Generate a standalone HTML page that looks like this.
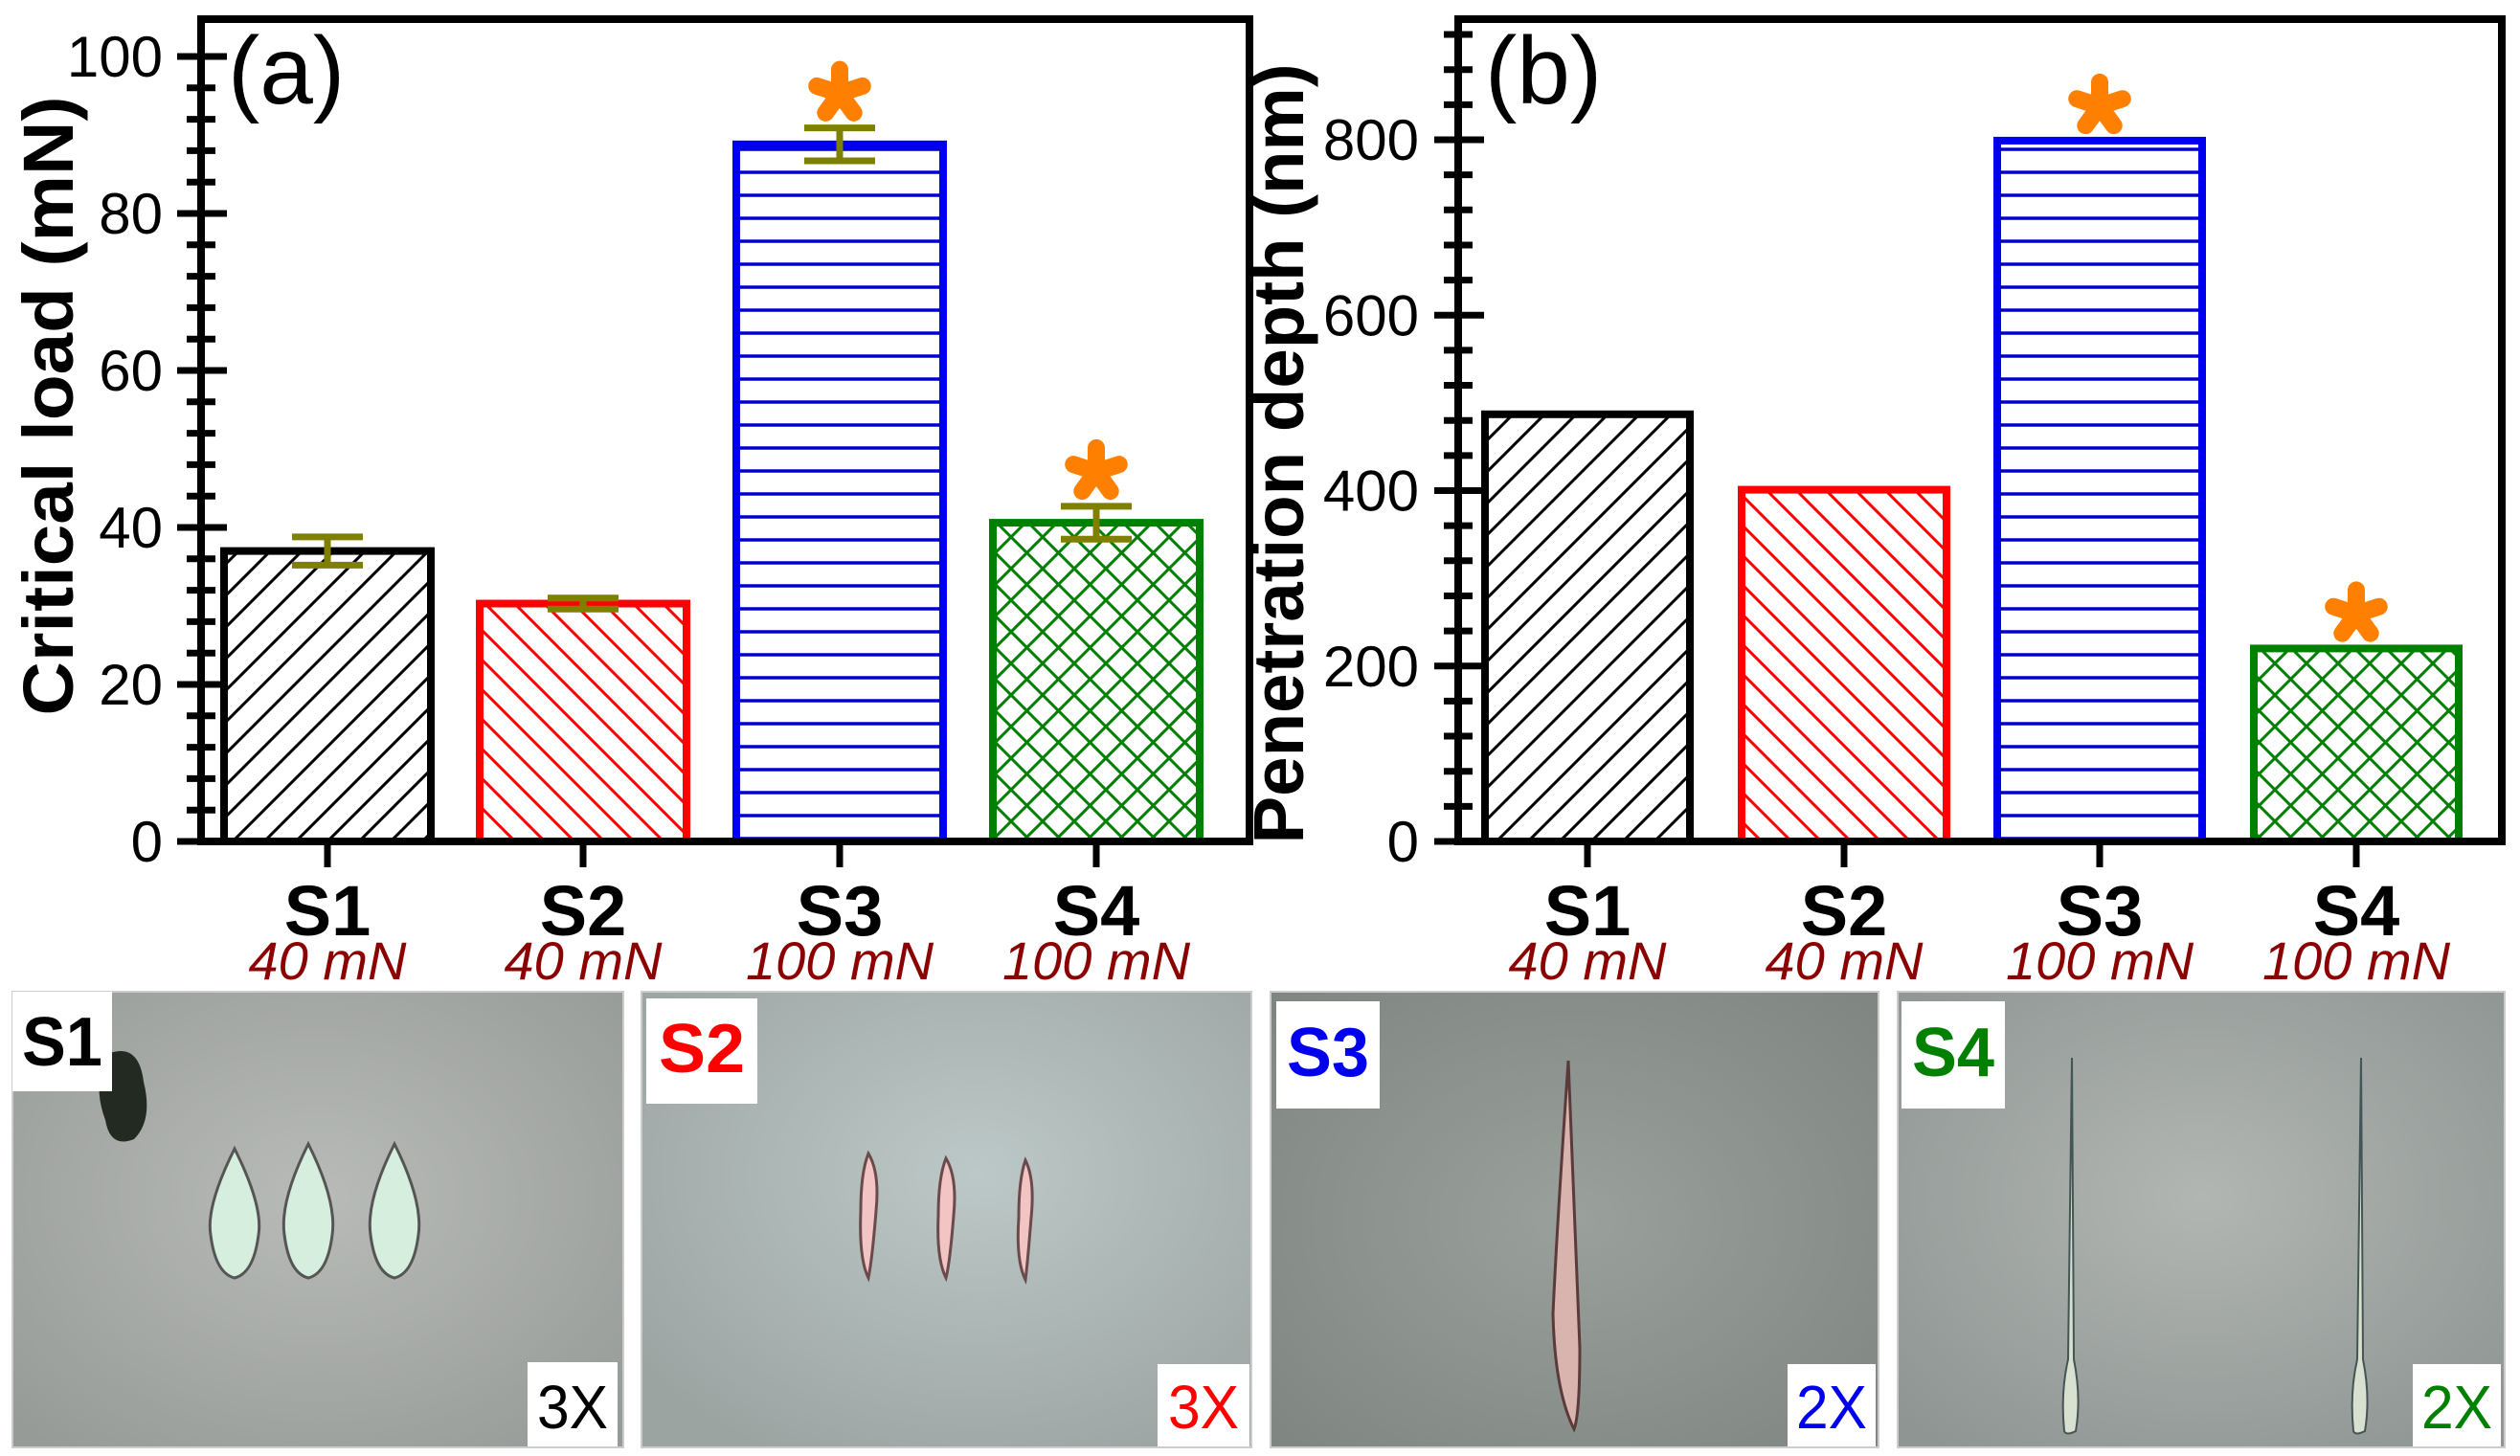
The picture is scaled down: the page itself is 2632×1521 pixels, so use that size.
<!DOCTYPE html>
<html><head><meta charset="utf-8"><style>
html,body{margin:0;padding:0;background:#fff;}
svg{display:block;font-family:"Liberation Sans",Arial,sans-serif;}
</style></head><body>
<svg id="fig" width="2632" height="1521" viewBox="0 0 2632 1521" xmlns="http://www.w3.org/2000/svg">
<defs>
<pattern id="pS1" patternUnits="userSpaceOnUse" width="33" height="33"><rect width="33" height="33" fill="#fff"/><path d="M-8,41 L41,-8 M-8,8 L8,-8 M25,41 L41,25" stroke="#000" stroke-width="3"/></pattern>
<pattern id="pS2" patternUnits="userSpaceOnUse" width="31" height="31"><rect width="31" height="31" fill="#fff"/><path d="M-8,-8 L39,39 M-8,23 L8,39 M23,-8 L39,8" stroke="#ff0000" stroke-width="3"/></pattern>
<pattern id="pS3" patternUnits="userSpaceOnUse" width="40" height="24"><rect width="40" height="24" fill="#fff"/><line x1="0" y1="12" x2="40" y2="12" stroke="#0000cc" stroke-width="3.5"/></pattern>
<pattern id="pS4" patternUnits="userSpaceOnUse" width="33" height="33"><rect width="33" height="33" fill="#fff"/><path d="M-8,41 L41,-8 M-8,8 L8,-8 M25,41 L41,25 M-8,-8 L41,41 M-8,25 L8,41 M25,-8 L41,8" stroke="#008000" stroke-width="3"/></pattern>
<radialGradient id="g1" cx="0.5" cy="0.45" r="0.7"><stop offset="0" stop-color="#b8bbb8"/><stop offset="1" stop-color="#979b98"/></radialGradient>
<radialGradient id="g2" cx="0.55" cy="0.4" r="0.7"><stop offset="0" stop-color="#bcc8c7"/><stop offset="1" stop-color="#9ca4a2"/></radialGradient>
<radialGradient id="g3" cx="0.5" cy="0.5" r="0.7"><stop offset="0" stop-color="#9aa09b"/><stop offset="1" stop-color="#7f8682"/></radialGradient>
<radialGradient id="g4" cx="0.5" cy="0.45" r="0.7"><stop offset="0" stop-color="#b2b6b3"/><stop offset="1" stop-color="#8e9592"/></radialGradient>
</defs>
<g id="charts"></g>
<g id="photos">
  <g>
    <rect x="13" y="1036" width="638" height="476" fill="url(#g1)" stroke="#ccc" stroke-width="2"/>
    <path d="M115,1100 q30,-10 35,30 q10,40 -10,60 q-25,10 -30,-20 q-15,-40 5,-70z" fill="#222a22"/>
    <path d="M245,1200 q-30,60 -25,90 q5,40 25,45 q20,-5 25,-45 q5,-30 -25,-90z" fill="#d6eedd" stroke="#555" stroke-width="3"/>
    <path d="M322,1195 q-30,60 -25,95 q5,40 25,45 q20,-5 25,-45 q5,-35 -25,-95z" fill="#d6eedd" stroke="#555" stroke-width="3"/>
    <path d="M412,1195 q-30,60 -25,95 q5,40 25,45 q20,-5 25,-45 q5,-35 -25,-95z" fill="#d6eedd" stroke="#555" stroke-width="3"/>
    <rect x="13" y="1036" width="104" height="104" fill="#fff"/>
    <text x="65" y="1113" font-size="72" font-weight="bold" text-anchor="middle" fill="#000" textLength="84" lengthAdjust="spacingAndGlyphs">S1</text>
    <rect x="551" y="1423" width="94" height="88" fill="#fff"/>
    <text x="598" y="1492" font-size="64" text-anchor="middle" fill="#000" textLength="74" lengthAdjust="spacingAndGlyphs">3X</text>
  </g>
  <g>
    <rect x="670" y="1036" width="637" height="476" fill="url(#g2)" stroke="#ccc" stroke-width="2"/>
    <path d="M907,1205 q12,20 8,60 q-4,50 -8,70 q-10,-20 -8,-70 q0,-40 8,-60z" fill="#f2c4c4" stroke="#6a4a4a" stroke-width="3"/>
    <path d="M988,1210 q12,20 8,60 q-4,50 -8,65 q-10,-20 -8,-65 q0,-40 8,-60z" fill="#f2c4c4" stroke="#6a4a4a" stroke-width="3"/>
    <path d="M1071,1212 q10,20 6,60 q-4,50 -6,65 q-10,-20 -7,-65 q0,-40 7,-60z" fill="#f2c4c4" stroke="#6a4a4a" stroke-width="3"/>
    <rect x="675" y="1043" width="116" height="110" fill="#fff"/>
    <text x="733" y="1120" font-size="72" font-weight="bold" text-anchor="middle" fill="#ff0000" textLength="90" lengthAdjust="spacingAndGlyphs">S2</text>
    <rect x="1209" y="1425" width="96" height="86" fill="#fff"/>
    <text x="1257" y="1492" font-size="64" text-anchor="middle" fill="#ff0000" textLength="74" lengthAdjust="spacingAndGlyphs">3X</text>
  </g>
  <g>
    <rect x="1327" y="1036" width="635" height="476" fill="url(#g3)" stroke="#ccc" stroke-width="2"/>
    <path d="M1638,1108 q8,200 12,300 q0,70 -6,85 q-20,-40 -22,-120 q4,-90 16,-265z" fill="#d9b3ad" stroke="#5a3a3a" stroke-width="3"/>
    <rect x="1333" y="1046" width="108" height="112" fill="#fff"/>
    <text x="1387" y="1124" font-size="72" font-weight="bold" text-anchor="middle" fill="#0000ee" textLength="86" lengthAdjust="spacingAndGlyphs">S3</text>
    <rect x="1867" y="1425" width="92" height="86" fill="#fff"/>
    <text x="1913" y="1492" font-size="64" text-anchor="middle" fill="#0000ee" textLength="74" lengthAdjust="spacingAndGlyphs">2X</text>
  </g>
  <g>
    <rect x="1982" y="1036" width="634" height="476" fill="url(#g4)" stroke="#ccc" stroke-width="2"/>
    <path d="M2164,1105 L2166,1420 q8,40 2,75 q-10,5 -12,0 q-4,-40 4,-75z" fill="#d8e0d0" stroke="#455" stroke-width="2"/>
    <path d="M2466,1105 L2468,1420 q8,40 2,75 q-10,5 -12,0 q-4,-40 4,-75z" fill="#d8e0d0" stroke="#455" stroke-width="2"/>
    <rect x="1986" y="1046" width="108" height="112" fill="#fff"/>
    <text x="2040" y="1124" font-size="72" font-weight="bold" text-anchor="middle" fill="#008000" textLength="86" lengthAdjust="spacingAndGlyphs">S4</text>
    <rect x="2520" y="1425" width="92" height="86" fill="#fff"/>
    <text x="2566" y="1492" font-size="64" text-anchor="middle" fill="#008000" textLength="74" lengthAdjust="spacingAndGlyphs">2X</text>
  </g>
</g>
</svg>
<script>
const categories = ["S1","S2","S3","S4"];
const loads = ["40 mN","40 mN","100 mN","100 mN"];
const criticalLoad = [37.0, 30.3, 88.8, 40.6];
const criticalLoadErr = [1.8, 0.7, 2.1, 2.1];
const criticalStars = [false, false, true, true];
const penetrationDepth = [487, 401, 799, 220];
const penetrationStars = [false, false, true, true];
const ticksA = [0,20,40,60,80,100];
const ticksB = [0,200,400,600,800];
const fills = ["url(#pS1)","url(#pS2)","url(#pS3)","url(#pS4)"];
const strokes = ["#000","#ff0000","#0000ee","#008000"];

const NS = "http://www.w3.org/2000/svg";
const root = document.getElementById("charts");
function mk(tag, attrs, parent){const e=document.createElementNS(NS,tag);for(const k in attrs)e.setAttribute(k,attrs[k]);(parent||root).appendChild(e);return e;}

function drawPanel(cfg){
  const g = mk("g",{});
  
  
  const {left,right,top,bottom,vmax,minorStep,ticks,letter,title,titleX,titleLen,labelRight,vals,errs,stars,barCenters,barW} = cfg;
  const y = v => bottom - (v/vmax)*(bottom-cfg.yAtMax);
  vals.forEach((v,i)=>{
    const r = mk("rect",{x:barCenters[i]-barW/2,y:y(v),width:barW,height:bottom-y(v),fill:fills[i],stroke:strokes[i],"stroke-width":8},g);
    
    
  });
  if(errs){
    errs.forEach((e,i)=>{
      const eg = mk("g",{stroke:"#808000","stroke-width":7},g);
      
      
      const cx = barCenters[i];
      mk("line",{x1:cx,x2:cx,y1:y(vals[i]+e),y2:y(vals[i]-e)},eg);
      mk("line",{x1:cx-37,x2:cx+37,y1:y(vals[i]+e),y2:y(vals[i]+e)},eg);
      mk("line",{x1:cx-37,x2:cx+37,y1:y(vals[i]-e),y2:y(vals[i]-e)},eg);
    });
  }
  stars.forEach((s,i)=>{
    if(!s) return;
    const top = errs ? y(vals[i]+errs[i]) : y(vals[i]);
    const cy = top - 36, cx = barCenters[i];
    const sg = mk("g",{stroke:"#ff8000","stroke-width":18,"stroke-linecap":"round"},g);
    
    
    [90,18,162,234,306].forEach(a=>{
      const rad=a*Math.PI/180;
      mk("line",{x1:cx,y1:cy,x2:cx+25*Math.cos(rad),y2:cy-25*Math.sin(rad)},sg);
    });
  });
  const fr = mk("rect",{x:left,y:top,width:right-left,height:bottom-top,fill:"none",stroke:"#000","stroke-width":8},g);
  
  
  const yax = mk("g",{stroke:"#000","stroke-width":7},g);
  
  
  for(let v=0; y(v)>=top+8; v+=minorStep){
    const isMajor = ticks.indexOf(v)>=0;
    if(isMajor) mk("line",{x1:left-25,x2:left+27,y1:y(v),y2:y(v)},yax);
    else mk("line",{x1:left-15,x2:left+15,y1:y(v),y2:y(v)},yax);
  }
  ticks.forEach(t=>{
    const tx = mk("text",{x:labelRight,y:y(t)+21,"font-size":60,"text-anchor":"end",fill:"#000"},g);
    tx.textContent = t;
    
    
  });
  categories.forEach((c,i)=>{
    mk("line",{x1:barCenters[i],x2:barCenters[i],y1:bottom,y2:bottom+27,stroke:"#000","stroke-width":7},g);
    const t1 = mk("text",{x:barCenters[i],y:977,"font-size":74,"font-weight":"bold","text-anchor":"middle",fill:"#000"},g);
    t1.textContent = c;
    
    
    const t2 = mk("text",{x:barCenters[i],y:1023,"font-size":56,"font-style":"italic","text-anchor":"middle",fill:"#8b0000"},g);
    t2.textContent = loads[i];
    
    
  });
  const pl = mk("text",{x:left+28,y:108,"font-size":100,fill:"#000"},g);
  pl.textContent = letter;
  
  
  const yt = mk("text",{x:0,y:0,"font-size":74,"font-weight":"bold","text-anchor":"middle",fill:"#000",textLength:titleLen,lengthAdjust:"spacingAndGlyphs",transform:"translate("+titleX+","+cfg.titleY+") rotate(-90)"},g);
  yt.textContent = title;
  
  
}

drawPanel({name:"chart-critical-load",left:210,right:1305,top:20,bottom:879,yAtMax:59,vmax:100,minorStep:4,ticks:ticksA,
  letter:"(a)",title:"Critical load (mN)",titleX:76,titleY:424,titleLen:647,labelRight:170,
  vals:criticalLoad,errs:criticalLoadErr,stars:criticalStars,barCenters:[342,609,877,1145],barW:216});
drawPanel({name:"chart-penetration-depth",left:1523,right:2613,top:20,bottom:879,yAtMax:146,vmax:800,minorStep:40,ticks:ticksB,
  letter:"(b)",title:"Penetration depth (nm)",titleX:1361,titleY:474,titleLen:815,labelRight:1482,
  vals:penetrationDepth,errs:null,stars:penetrationStars,barCenters:[1658,1926,2193,2461],barW:214});
</script>
</body></html>
